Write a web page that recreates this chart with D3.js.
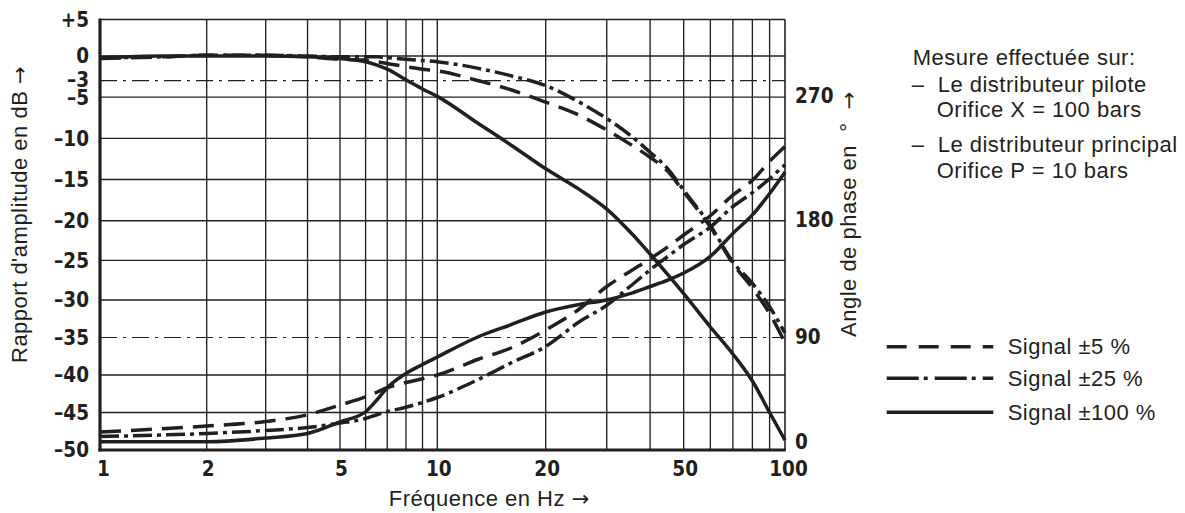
<!DOCTYPE html>
<html><head><meta charset="utf-8">
<script src="https://cdn.jsdelivr.net/npm/d3@7"></script>
<style>
html,body{margin:0;padding:0;background:#fff;}
svg{display:block;}
.tk text{font-family:"Liberation Sans Narrow","Arial Narrow","DejaVu Sans Condensed",sans-serif;font-weight:bold;font-size:20.5px;fill:#231f20;}
.lab{font-family:"Liberation Sans",Arial,Helvetica,sans-serif;font-size:22px;letter-spacing:0.5px;fill:#231f20;white-space:pre;}
.arr{font-family:"DejaVu Sans",sans-serif;font-size:21px;letter-spacing:0;}
</style></head><body>
<svg id="chart" width="1185" height="513"></svg>
<script>
// ---- data ----
const freq = [1, 1.5, 2, 3, 4, 5, 6, 6.5, 7, 8, 9, 10, 13, 16, 20, 25, 30, 35, 40, 45, 50, 60, 70, 80, 90, 100];
// amplitude ratio, dB
const ampSignal5   = [-0.3, -0.1, 0.1, 0.1, -0.1, -0.4, -0.5, -0.7, -0.9, -1.3, -1.6, -1.8, -3.0, -4.1, -5.6, -7.2, -9.0, -10.7, -12.3, -14.0, -16.5, -20.8, -25.4, -28.5, -31.8, -35.7];
const ampSignal25  = [-0.2, -0.1, 0.1, 0.1, 0.0, -0.1, -0.1, -0.1, -0.2, -0.4, -0.55, -0.7, -1.5, -2.4, -3.6, -5.6, -7.6, -9.6, -11.7, -13.7, -16.3, -20.6, -25.2, -27.9, -30.9, -34.4];
const ampSignal100 = [-0.2, 0.0, 0.0, 0.0, -0.1, -0.3, -0.7, -1.1, -1.6, -2.9, -4.0, -4.9, -8.2, -10.8, -13.7, -16.2, -18.6, -21.4, -24.2, -26.8, -29.2, -33.6, -37.2, -40.8, -45.0, -48.7];
// phase angle, degrees
const phaseSignal5   = [14.4, 17, 19.2, 22.8, 28.2, 36, 42.6, 46.2, 49.8, 54, 57, 60, 72.6, 81.6, 96, 112.8, 130.2, 141.6, 151.2, 160.2, 169.2, 183.6, 198.6, 209.4, 223.2, 234];
const phaseSignal25  = [10.8, 12, 13.2, 15.6, 18, 21.6, 25.2, 28.2, 30.6, 34.2, 38, 42, 56.4, 69.6, 82.8, 102.6, 115.8, 130.2, 142.8, 153, 162, 175.2, 190.2, 200.4, 210.6, 220.8];
const phaseSignal100 = [6.6, 6.6, 6.6, 9.6, 13.2, 22.5, 30.6, 40, 49.8, 61.2, 68.4, 74.4, 90.6, 100.2, 110.4, 116.4, 120, 124.8, 130.2, 135, 140.4, 153, 170.4, 184.2, 199.8, 215.4];

const xTicks = [1, 2, 5, 10, 20, 50, 100];
const xGrid = [2, 3, 4, 5, 6, 7, 8, 9, 10, 20, 30, 40, 50, 60, 70, 80, 90];
const yTicks = [5, 0, -3, -5, -10, -15, -20, -25, -30, -35, -40, -45, -50];
const yGrid = [0, -5, -10, -15, -20, -25, -30, -40, -45];
const yRef = [-3, -35];
const phaseTicks = [0, 90, 180, 270];
const seriesNames = ["Signal ±5 %", "Signal ±25 %", "Signal ±100 %"];
const noteLines = ["Mesure effectuée sur:", "–  Le distributeur pilote", "Orifice X = 100 bars", "–  Le distributeur principal", "Orifice P = 10 bars"];
const titleY = "Rapport d'amplitude en dB ";
const titleY2 = "Angle de phase en  °  ";
const titleX = "Fréquence en Hz ";
const arrow = "→";

// ---- scales (calibrated to the scanned grid) ----
const x = d3.scaleLog().domain([1, 2, 5, 10, 20, 50, 100]).range([100, 206.7, 340, 437.3, 545.7, 683.7, 785]);
const y = d3.scaleLinear().domain([5, 0, -20, -30, -50]).range([19.5, 56, 220.7, 300, 450]);
const phaseToDb = d3.scaleLinear().domain([0, 270]).range([-50, -5]);
const yPhase = d3.scaleLinear().domain(y.domain().map(phaseToDb.invert)).range(y.range());

const ink = "#231f20";
const svg = d3.select("#chart");
const x0 = x(1), x1 = x(100), yTop = y(5), yBot = y(-50);

// grid
svg.append("g").selectAll("line").data(xGrid).join("line")
  .attr("x1", d => x(d)).attr("x2", d => x(d)).attr("y1", yTop).attr("y2", yBot)
  .attr("stroke", ink).attr("stroke-width", 1.35);
svg.append("g").selectAll("line").data(yGrid).join("line")
  .attr("x1", x0).attr("x2", x1).attr("y1", d => y(d)).attr("y2", d => y(d))
  .attr("stroke", ink).attr("stroke-width", 1.35);
svg.append("g").selectAll("line").data(yRef).join("line")
  .attr("x1", x0).attr("x2", x1).attr("y1", d => y(d)).attr("y2", d => y(d))
  .attr("stroke", ink).attr("stroke-width", 1.2).attr("stroke-dasharray", "17,6,3,6");
// frame
svg.append("line").attr("x1", x0).attr("x2", x1).attr("y1", yTop).attr("y2", yTop).attr("stroke", ink).attr("stroke-width", 1.35);
svg.append("line").attr("x1", x1).attr("x2", x1).attr("y1", yTop).attr("y2", yBot).attr("stroke", ink).attr("stroke-width", 1.6);

// curves
const lineAmp = d3.line().x((d, i) => x(freq[i])).y(d => y(d)).curve(d3.curveMonotoneX);
const linePh = d3.line().x((d, i) => x(freq[i])).y(d => yPhase(d)).curve(d3.curveMonotoneX);
const dashes = ["21,10", "19,5,4,5", null];
const amps = [ampSignal5, ampSignal25, ampSignal100];
const phases = [phaseSignal5, phaseSignal25, phaseSignal100];
const gC = svg.append("g").attr("fill", "none").attr("stroke", ink).attr("stroke-width", 3.5);
amps.forEach((a, i) => gC.append("path").attr("d", lineAmp(a)).attr("stroke-dasharray", dashes[i]));
phases.forEach((p, i) => gC.append("path").attr("d", linePh(p)).attr("stroke-dasharray", dashes[i]));

// thick axes
svg.append("line").attr("x1", x0).attr("x2", x0).attr("y1", yTop - 1).attr("y2", yBot + 1.6).attr("stroke", ink).attr("stroke-width", 3.2);
svg.append("line").attr("x1", x0 - 1.6).attr("x2", x1 + 0.8).attr("y1", yBot).attr("y2", yBot).attr("stroke", ink).attr("stroke-width", 3.2);

// axes labels
const fmtY = d => d > 0 ? "+" + d : (d < 0 ? "–" + Math.abs(d) : "0");
const gl = svg.append("g").attr("class", "tk").attr("transform", `translate(${x0},0)`)
  .call(d3.axisLeft(y).tickValues(yTicks).tickFormat(fmtY).tickSize(0).tickPadding(11));
gl.select(".domain").remove();
gl.selectAll(".tick text").attr("dy", d => d === -3 ? "0.28em" : (d === -5 ? "0.38em" : "0.33em"));
const gb = svg.append("g").attr("class", "tk").attr("transform", `translate(0,${yBot})`)
  .call(d3.axisBottom(x).tickValues(xTicks).tickFormat(d3.format("d")).tickSize(0).tickPadding(11));
gb.select(".domain").remove();
gb.selectAll(".tick text").attr("dx", d => d === 1 ? 3 : (d === 100 ? 3 : 1));
const gr = svg.append("g").attr("class", "tk").attr("transform", `translate(${x1},0)`)
  .call(d3.axisRight(yPhase).tickValues(phaseTicks).tickSize(0).tickPadding(10));
gr.select(".domain").remove();
gr.selectAll(".tick text").attr("dy", d => d === 0 ? "-0.05em" : "0.28em");
svg.selectAll(".tk text").attr("fill", ink);

// axis titles
function title(sel, txt) {
  sel.append("tspan").text(txt);
  sel.append("tspan").attr("class", "arr").text(arrow);
}
svg.append("text").attr("class", "lab").attr("transform", "translate(27,363) rotate(-90)").call(title, titleY);
svg.append("text").attr("class", "lab").attr("transform", "translate(856,337) rotate(-90)").call(title, titleY2);
svg.append("text").attr("class", "lab").attr("x", 489).attr("y", 506).attr("text-anchor", "middle").call(title, titleX);

// note
const noteX = [912.7, 911.7, 936.7, 911.7, 936.7];
const noteY = [65, 91.8, 116.6, 151.5, 178.3];
svg.append("g").selectAll("text").data(noteLines).join("text").attr("class", "lab")
  .attr("x", (d, i) => noteX[i]).attr("y", (d, i) => noteY[i]).text(d => d);

// legend
const legY = [346.7, 378.3, 412.3];
const legDash = ["20,12", "32,5,4,7", null];
const gLeg = svg.append("g");
seriesNames.forEach((s, i) => {
  gLeg.append("line").attr("x1", 886.7).attr("x2", 993.3).attr("y1", legY[i]).attr("y2", legY[i])
    .attr("stroke", ink).attr("stroke-width", 3.5).attr("stroke-dasharray", legDash[i]);
  gLeg.append("text").attr("class", "lab").attr("x", 1007.7).attr("y", legY[i] + 7.5).text(s);
});
</script>
</body></html>
